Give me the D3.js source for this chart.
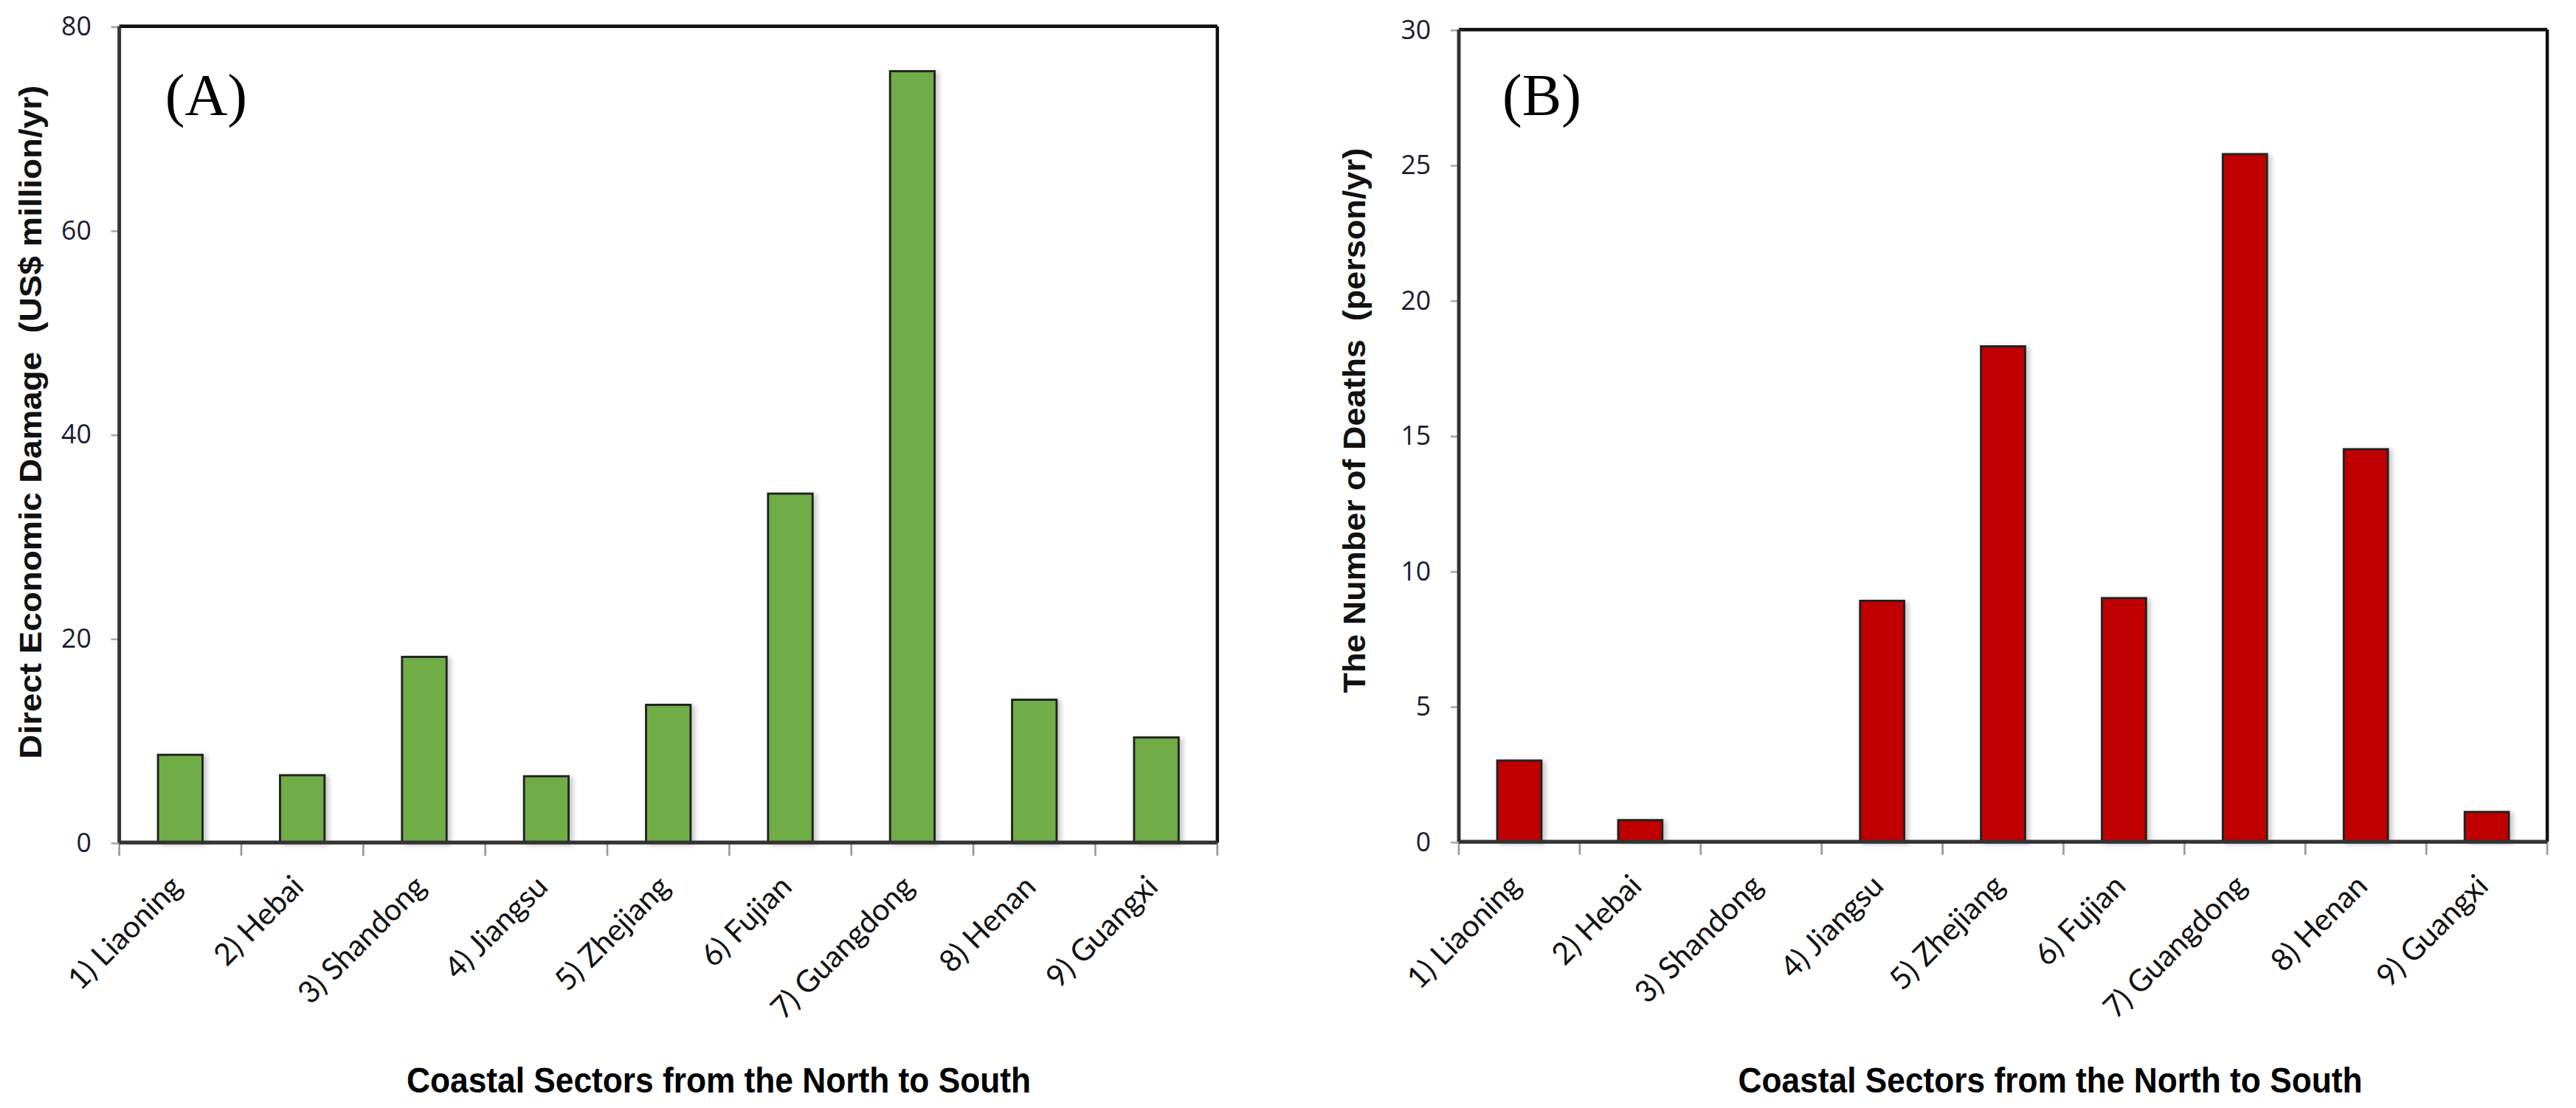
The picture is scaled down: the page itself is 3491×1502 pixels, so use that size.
<!DOCTYPE html>
<html>
<head>
<meta charset="utf-8">
<script src="https://cdn.jsdelivr.net/npm/d3@7"></script>
<style>
  body { margin: 0; background: #fff; }
  svg { display: block; }
</style>
</head>
<body>
<div id="chart"></div>
<script>
// coastal sectors, north to south
const sectors = ["1) Liaoning", "2) Hebai", "3) Shandong", "4) Jiangsu", "5) Zhejiang",
                 "6) Fujian", "7) Guangdong", "8) Henan", "9) Guangxi"];

// panel A: direct economic damage (US$ million/yr)
const damage = [8.6, 6.6, 18.2, 6.5, 13.5, 34.2, 75.6, 14.0, 10.3];
const damageTicks = [0, 20, 40, 60, 80];

// panel B: number of deaths (person/yr)
const deaths = [3.0, 0.8, 0, 8.9, 18.3, 9.0, 25.4, 14.5, 1.1];
const deathTicks = [0, 5, 10, 15, 20, 25, 30];

const xTitle = "Coastal Sectors from the North to South";

// drawing is done in a 1568-wide space and scaled up to the window
const W = 1568, H = 674.6;

const svg = d3.select("#chart").append("svg")
    .attr("width", 3491)
    .attr("height", 1502)
    .attr("viewBox", `0 0 ${W} ${H}`);

const f = svg.append("defs").append("filter").attr("id", "shadow")
    .attr("x", "-20%").attr("y", "-5%").attr("width", "150%").attr("height", "115%");
f.append("feDropShadow").attr("dx", 2).attr("dy", 1).attr("stdDeviation", 1.5)
    .attr("flood-color", "#000").attr("flood-opacity", 0.22);

function panel(o) {
    const g = svg.append("g");

    const x = d3.scaleBand().domain(sectors).range([o.left, o.right]).padding(0);
    const y = d3.scaleLinear().domain([0, o.max]).range([o.bottom, o.top]);
    const bw = x.bandwidth() * 0.365;

    // y ticks + labels
    const ya = g.append("g").attr("transform", `translate(${o.left},0)`)
        .call(d3.axisLeft(y).tickValues(o.ticks).tickSize(5).tickPadding(12));
    ya.select(".domain").remove();
    ya.selectAll(".tick line").attr("stroke", "#aaa").attr("stroke-width", 1.2);
    ya.selectAll(".tick text")
        .attr("font-family", "'Open Sans', sans-serif")
        .attr("font-size", 16).attr("fill", "#1b1b30");

    // category ticks on band edges
    const edges = sectors.map(s => x(s)).concat([o.right]);
    g.selectAll(".ctick").data(edges).enter().append("line")
        .attr("x1", d => d).attr("x2", d => d)
        .attr("y1", o.bottom).attr("y2", o.bottom + 8)
        .attr("stroke", "#999").attr("stroke-width", 1.2);

    // bars
    g.selectAll(".bar").data(o.values).enter().append("rect")
        .attr("x", (d, i) => x(sectors[i]) + x.bandwidth() / 2 - bw / 2)
        .attr("y", d => y(d))
        .attr("width", bw)
        .attr("height", d => o.bottom - y(d))
        .attr("fill", o.fill)
        .attr("stroke", "#222").attr("stroke-width", 1.3)
        .attr("filter", "url(#shadow)")
        .attr("display", d => d > 0 ? null : "none");

    // frame
    g.append("line").attr("x1", o.left).attr("x2", o.right).attr("y1", o.top).attr("y2", o.top)
        .attr("stroke", "#111").attr("stroke-width", 2.2);
    g.append("line").attr("x1", o.right).attr("x2", o.right).attr("y1", o.top).attr("y2", o.bottom)
        .attr("stroke", "#111").attr("stroke-width", 2);
    g.append("line").attr("x1", o.left).attr("x2", o.left).attr("y1", o.top).attr("y2", o.bottom)
        .attr("stroke", "#333").attr("stroke-width", 2.2);
    g.append("line").attr("x1", o.left).attr("x2", o.right).attr("y1", o.bottom).attr("y2", o.bottom)
        .attr("stroke", "#333").attr("stroke-width", 2.4);

    // category labels at 45 degrees
    g.selectAll(".clabel").data(sectors).enter().append("text")
        .attr("transform", d => `translate(${x(d) + x.bandwidth() / 2 + 2},${o.bottom + 28}) rotate(-45)`)
        .attr("text-anchor", "end")
        .attr("font-family", "Lato, 'Open Sans', sans-serif")
        .attr("font-size", 18.5).attr("fill", "#111")
        .text(d => d);

    // y title
    g.append("text")
        .attr("transform", `translate(${o.yTitleX},${o.yTitleY}) rotate(-90)`)
        .attr("text-anchor", "middle")
        .attr("font-family", "'Liberation Sans', Arial, sans-serif")
        .attr("font-weight", "bold").attr("font-size", 19.5).attr("fill", "#111")
        .attr("textLength", o.yTitleLen).attr("lengthAdjust", "spacingAndGlyphs")
        .style("white-space", "pre")
        .text(o.yTitle);

    // x title
    g.append("text")
        .attr("x", o.xTitleX).attr("y", 665)
        .attr("text-anchor", "middle")
        .attr("font-family", "'Liberation Sans', Arial, sans-serif")
        .attr("font-weight", "bold").attr("font-size", 22).attr("fill", "#000")
        .attr("textLength", 380).attr("lengthAdjust", "spacingAndGlyphs")
        .text(xTitle);

    // panel tag
    g.append("text")
        .attr("x", o.tagX).attr("y", 70)
        .attr("font-family", "'Liberation Serif', 'Times New Roman', serif")
        .attr("font-size", 36).attr("fill", "#000")
        .text(o.tag);
}

panel({
    left: 72.6, right: 741, top: 16, bottom: 513,
    values: damage, ticks: damageTicks, max: 80, fill: "#70ad47",
    yTitle: "Direct Economic Damage  (US$ million/yr)", yTitleX: 25, yTitleY: 257, yTitleLen: 410,
    tag: "(A)", tagX: 100.5, xTitleX: 437.5
});

panel({
    left: 888, right: 1550.5, top: 18, bottom: 512.5,
    values: deaths, ticks: deathTicks, max: 30, fill: "#c00000",
    yTitle: "The Number of Deaths  (person/yr)", yTitleX: 831, yTitleY: 256, yTitleLen: 332,
    tag: "(B)", tagX: 914.5, xTitleX: 1248
});
</script>
</body>
</html>
